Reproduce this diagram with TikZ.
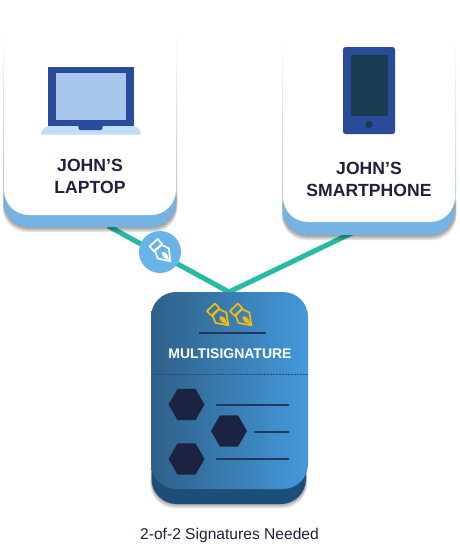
\documentclass[tikz,border=0pt]{standalone}
\usepackage{fontspec}
\setmainfont{Liberation Sans}
\usetikzlibrary{shapes.geometric}
\definecolor{teal}{HTML}{25BBA5}
\definecolor{cardblue}{HTML}{76B3E5}
\definecolor{badge}{HTML}{68B3E8}
\definecolor{navy}{HTML}{2A4A9A}
\definecolor{screen}{HTML}{A9C6EC}
\definecolor{base}{HTML}{BFDFF6}
\definecolor{phonescreen}{HTML}{1B3B50}
\definecolor{ink}{HTML}{20203C}
\definecolor{gold}{HTML}{F5BB0B}
\definecolor{msleft}{HTML}{2E6088}
\definecolor{msright}{HTML}{4499DB}
\definecolor{msdark}{HTML}{1D4E78}
\definecolor{hexa}{HTML}{1C2340}
\definecolor{rule}{HTML}{24365F}
\tikzset{
  x=1pt,y=-1pt,
  title/.style={font=\bfseries\fontsize{17.6}{22}\selectfont,text=ink,align=center,inner sep=0pt},
  hexnode/.style={regular polygon,regular polygon sides=6,fill=hexa,minimum size=36pt,inner sep=0pt},
  rulel/.style={draw=rule,line width=2pt},
  wire/.style={draw=teal,line width=5pt,line join=miter},
  pics/pen/.style={code={
    \draw[#1,line width=1.7pt,line join=miter,miter limit=10]
      (0,-1) -- (-7.5,-11.5) -- (-4.5,-19) -- (4.5,-19) -- (7.5,-11.5) -- cycle;
    \draw[#1,line width=1.7pt,line join=round]
      (-5.5,-19.5) rectangle (5.5,-26);
    \fill[#1] (0,0) -- (-1,-5) .. controls (-3.5,-8) and (-2,-12) .. (0,-13.5)
      .. controls (2,-12) and (3.5,-8) .. (1,-5) -- cycle;
  }}
}
\newcommand{\softshadow}[5]{%
  \foreach \k in {1,...,6}{
    \fill[black,opacity=.07,rounded corners=#5pt]
      ({#1-\k*.25},{#3}) rectangle ({#2+\k*.25},{#4+\k*.9});
  }%
}
\begin{document}
\begin{tikzpicture}
\useasboundingbox (0,0) rectangle (459,544);
\fill[white] (0,0) rectangle (459,544);

\coordinate (wireA) at (108,226);
\coordinate (wireB) at (229,292);
\coordinate (wireC) at (352,233);
\path[wire] (wireA) -- (wireB) -- (wireC);

% laptop card
\softshadow{4}{176}{170}{227}{25}
\fill[cardblue,rounded corners=25pt] (4,150) rectangle (176,227);
\shade[top color=white,bottom color=black!25] (3,30) rectangle (4,190);
\shade[top color=white,bottom color=black!25] (176,30) rectangle (177,190);
\fill[white,rounded corners=25pt] (4,-40) rectangle (176,215);

% phone card
\softshadow{283}{455}{178}{235}{25}
\fill[cardblue,rounded corners=25pt] (283,150) rectangle (455,235);
\shade[top color=white,bottom color=black!22] (282,35) rectangle (283,195);
\shade[top color=white,bottom color=cardblue!60] (455,35) rectangle (456,195);
\fill[white,rounded corners=25pt] (283,-40) rectangle (455,222);

% laptop icon
\fill[base,rounded corners=1pt] (41,134.5) -- (41,133) .. controls (43,128) and (46,126) .. (50,126)
  -- (132,126) .. controls (136,126) and (139,128) .. (141,133) -- (141,134.5) -- cycle;
\fill[navy] (48,67) rectangle (133.5,126);
\fill[screen] (56,73) rectangle (126,120);
\fill[navy,rounded corners=1pt] (78,125) -- (79,130) -- (102,130) -- (103,125) -- cycle;

% phone icon
\fill[navy,rounded corners=2.5pt] (343,47) rectangle (395,134);
\fill[phonescreen] (350.5,55) rectangle (388,116);
\fill[phonescreen] (369,124.5) circle (3.7pt);

\node[title] (laptopLabel) at (90,176) {JOHN’S\\LAPTOP};
\node[title] (phoneLabel) at (369,179) {JOHN’S\\SMARTPHONE};

% badge
\node[circle,fill=badge,minimum size=42pt,inner sep=0pt] (badgeC) at (160,252) {};
\pic[rotate=42] at (171,262) {pen=white};

% multisignature
\foreach \k in {1,...,5}{
  \fill[black,opacity=.07,rounded corners=25pt] ({151.5-\k*.25},450) rectangle ({306+\k*.25},{504+\k*.9});
}
\fill[msdark,rounded corners=25pt] (151.5,440) rectangle (306,504);
\shade[left color=msleft,right color=msright,rounded corners=25pt] (151,292) rectangle (308,489);
\path[draw=rule!80!msright,densely dotted,line width=.5pt] (151,374) -- (308,374);

\pic[rotate=44] at (229,326) {pen=gold};
\pic[rotate=44] at (252,326) {pen=gold};
\coordinate (r1a) at (199,333); \coordinate (r1b) at (266,333);
\path[rulel] (r1a) -- (r1b);
\node[font=\bfseries\fontsize{14}{16}\selectfont,text=white,inner sep=0pt] (msLabel) at (230,354) {MULTISIGNATURE};

\node[hexnode] (h1) at (186.5,404.5) {};
\node[hexnode] (h2) at (229,431) {};
\node[hexnode] (h3) at (186.5,459) {};
\coordinate (l1a) at (216,404.5); \coordinate (l1b) at (288.5,404.5);
\coordinate (l2a) at (253.5,431.5); \coordinate (l2b) at (288.5,431.5);
\coordinate (l3a) at (216,458.5); \coordinate (l3b) at (288.5,458.5);
\path[rulel] (l1a) -- (l1b);
\path[rulel] (l2a) -- (l2b);
\path[rulel] (l3a) -- (l3b);

\node[font=\fontsize{15.6}{18}\selectfont,text=ink,inner sep=0pt] (caption) at (229.5,535) {2-of-2 Signatures Needed};
\end{tikzpicture}
\end{document}
